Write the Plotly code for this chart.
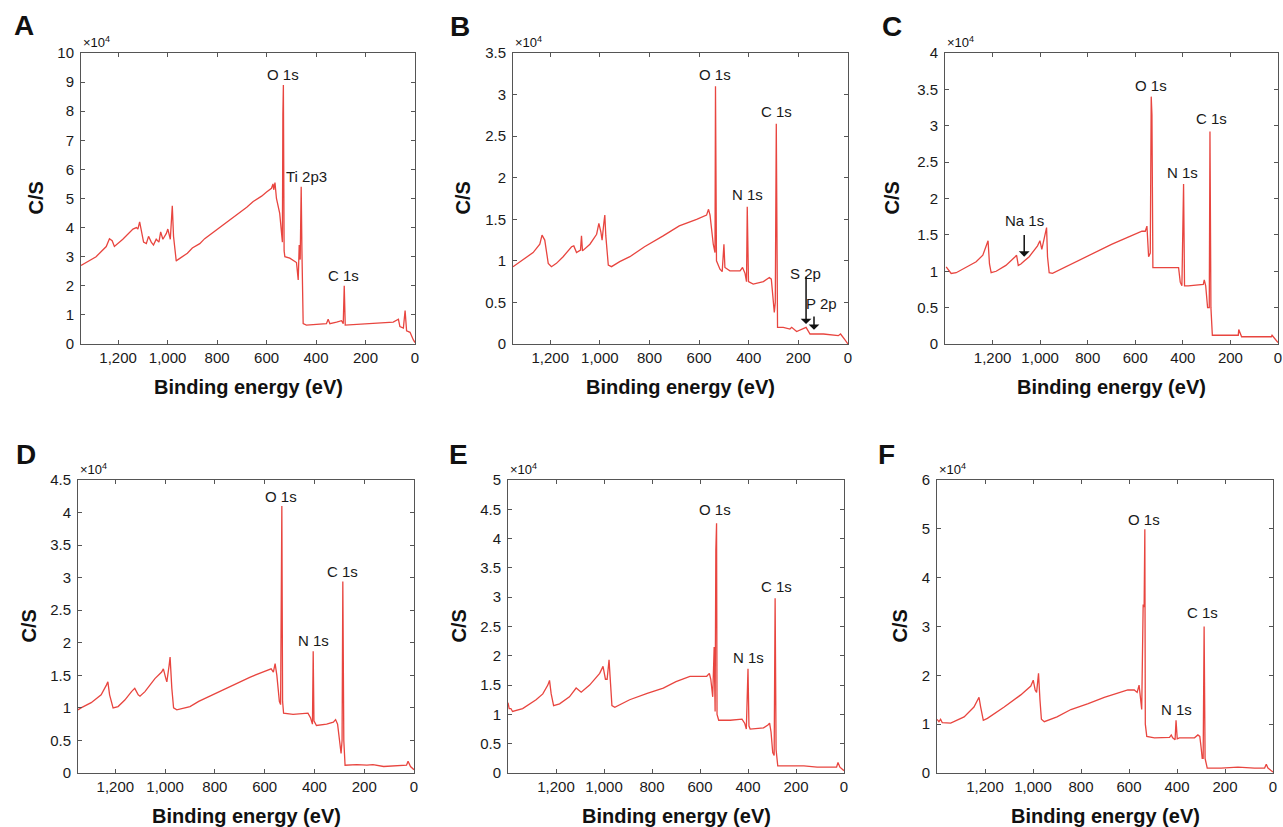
import plotly.graph_objects as go

W, H = 1283, 827

# XPS survey spectra, counts per second in units of 1e4
a_ev = [1350, 1329, 1289, 1248, 1235, 1224, 1215, 1181, 1140, 1126, 1120, 1113, 1107, 1097, 1086,
        1077, 1066, 1057, 1046, 1035, 1028, 1019, 1005, 999, 989, 981, 976, 965, 958, 920, 900,
        870, 850, 800, 770, 735, 700, 680, 654, 620, 600,
        580, 574, 571, 566, 560, 547, 540, 536, 534, 532, 529, 526, 506, 486, 479, 472, 468,
        464, 460, 457, 455, 452, 439, 358, 351, 344, 317, 297, 290, 286, 282, 196, 88, 67, 61, 47,
        40, 34, 20, 7, 0]
a_cs = [2.7, 2.8, 3.0, 3.35, 3.62, 3.55, 3.35, 3.6, 3.95, 4.0, 3.95, 4.2, 3.9, 3.5, 3.45,
        3.7, 3.5, 3.4, 3.6, 3.5, 3.85, 3.6, 3.8, 3.95, 3.6, 4.75, 3.7, 2.85, 2.9, 3.12, 3.3,
        3.45, 3.62, 3.93, 4.12, 4.35, 4.55, 4.7, 4.9, 5.08, 5.22,
        5.35, 5.5, 5.3, 5.55, 5.0, 4.5, 3.8, 3.5, 7.9, 8.9, 3.2, 3.0, 2.95, 2.85, 2.8, 2.2, 3.4,
        2.9, 5.4, 3.2, 1.0, 0.7, 0.65, 0.7, 0.85, 0.7, 0.75, 0.8, 0.7, 2.0, 0.65, 0.7, 0.75, 0.85, 0.6, 0.55,
        1.15, 0.45, 0.4, 0.15, 0.05]

b_ev = [1350, 1296, 1269, 1242, 1233, 1222, 1208, 1195, 1175, 1148, 1114, 1105, 1094, 1078, 1074,
        1070, 1040, 1013, 1004, 996, 991, 984, 980, 976, 966, 953, 920, 879, 820, 745, 680, 610, 570, 562, 556,
        543, 536, 534, 530, 516, 507, 500, 496, 476, 435, 425, 415, 409, 406, 401, 382, 341, 317,
        309, 301, 297, 293, 289, 284, 261, 234, 227, 207, 169, 153, 99, 39, 30, 12, 0]
b_cs = [0.93, 1.05, 1.1, 1.2, 1.31, 1.25, 0.97, 0.93, 0.97, 1.05, 1.17, 1.18, 1.1, 1.13, 1.3,
        1.12, 1.2, 1.32, 1.45, 1.35, 1.25, 1.45, 1.55, 1.3, 0.95, 0.93, 0.99, 1.05, 1.17, 1.3, 1.42, 1.5, 1.55, 1.62, 1.55,
        1.2, 1.1, 3.1, 1.0, 0.9, 0.87, 1.2, 0.92, 0.88, 0.88, 0.92, 0.85, 0.75, 1.65, 0.75, 0.72, 0.75, 0.8,
        0.78, 0.45, 0.38, 0.5, 2.65, 0.2, 0.2, 0.18, 0.2, 0.15, 0.2, 0.12, 0.12, 0.1, 0.12, 0.05, 0.0]

c_ev = [1395, 1374, 1353, 1311, 1269, 1241, 1227, 1219, 1213, 1206, 1185, 1144, 1105, 1099, 1092,
        1081, 1067, 1046, 1011, 1001, 993, 983, 973, 969, 962, 948, 880, 795, 700, 630, 572, 558, 551, 544, 537,
        533, 530, 526, 418, 411, 404, 397, 393, 377, 314, 310, 304, 296, 289, 286, 282, 276, 237,
        167, 165, 153, 28, 25, 0]
c_cs = [1.06, 0.97, 0.98, 1.05, 1.13, 1.22, 1.35, 1.42, 1.1, 0.98, 1.0, 1.08, 1.2, 1.22, 1.08,
        1.1, 1.14, 1.2, 1.35, 1.42, 1.3, 1.45, 1.6, 1.2, 0.98, 0.97, 1.08, 1.21, 1.37, 1.47, 1.55, 1.55, 1.62, 1.2, 1.25,
        3.4, 3.15, 1.05, 1.05, 0.85, 0.8, 2.2, 0.8, 0.8, 0.82, 0.88, 0.8, 0.5, 0.5, 2.92, 0.5, 0.12, 0.12,
        0.12, 0.2, 0.1, 0.1, 0.12, 0.02]

d_ev = [1350, 1338, 1297, 1257, 1236, 1230, 1223, 1209, 1189, 1162, 1135, 1122, 1108, 1101, 1081,
        1041, 1014, 1007, 997, 993, 984, 980, 973, 966, 953, 900, 865, 800, 730, 660, 608, 574, 565, 558, 551,
        541, 536, 534, 531, 528, 524, 486, 426, 416, 408, 405, 402, 392, 351, 324, 315, 307, 297,
        293, 289, 286, 282, 277, 230, 189, 165, 122, 30, 24, 14, 0]
d_cs = [0.97, 1.0, 1.08, 1.2, 1.35, 1.4, 1.2, 1.0, 1.02, 1.12, 1.25, 1.3, 1.2, 1.18, 1.25,
        1.45, 1.55, 1.6, 1.45, 1.4, 1.65, 1.78, 1.3, 1.0, 0.97, 1.02, 1.1, 1.22, 1.35, 1.47, 1.55, 1.6, 1.55, 1.68, 1.5,
        1.1, 1.05, 3.5, 4.1, 1.1, 0.92, 0.9, 0.92, 0.85, 0.75, 1.87, 0.8, 0.73, 0.75, 0.78, 0.82, 0.75, 0.4,
        0.3, 0.5, 2.94, 0.5, 0.12, 0.13, 0.12, 0.13, 0.1, 0.12, 0.18, 0.1, 0.05]

e_ev = [1400, 1395, 1388, 1381, 1339, 1283, 1255, 1234, 1227, 1220, 1210, 1185, 1144, 1116, 1095,
        1060, 1018, 1004, 994, 987, 979, 973, 967, 955, 893, 820, 753, 700, 642, 572, 561, 555, 547, 541,
        537, 534, 531, 529, 522, 474, 425, 414, 407, 400, 396, 391, 335, 317, 310, 304, 297, 291,
        287, 283, 276, 223, 167, 112, 31, 25, 17, 0]
e_cs = [1.2, 1.1, 1.1, 1.05, 1.1, 1.25, 1.35, 1.5, 1.58, 1.35, 1.15, 1.18, 1.3, 1.45, 1.38,
        1.5, 1.7, 1.82, 1.6, 1.6, 1.93, 1.6, 1.15, 1.12, 1.25, 1.36, 1.45, 1.56, 1.65, 1.65, 1.7, 1.6, 1.3, 2.15,
        1.05, 3.8, 4.26, 1.0, 0.9, 0.9, 0.92, 0.85, 0.75, 1.78, 0.8, 0.75, 0.77, 0.82, 0.85, 0.7, 0.35, 0.3,
        2.98, 0.4, 0.12, 0.12, 0.12, 0.1, 0.1, 0.18, 0.1, 0.04]

f_ev = [1400, 1392, 1385, 1378, 1343, 1287, 1246, 1225, 1218, 1207, 1190, 1120, 1051, 1009, 999,
        991, 985, 977, 971, 965, 953, 900, 842, 770, 703, 605, 578, 566, 558, 553, 547, 541, 537, 534, 532,
        526, 494, 431, 424, 418, 408, 404, 399, 390, 327, 313, 305, 299, 295, 291, 287, 283, 274,
        216, 146, 77, 35, 28, 21, 0]
f_cs = [1.1, 1.05, 1.1, 1.03, 1.02, 1.15, 1.35, 1.55, 1.35, 1.08, 1.12, 1.35, 1.6, 1.78, 1.9,
        1.7, 1.65, 2.04, 1.5, 1.1, 1.05, 1.15, 1.3, 1.42, 1.55, 1.7, 1.7, 1.65, 1.8, 1.5, 1.3, 3.45, 3.4, 4.99, 1.0,
        0.75, 0.72, 0.73, 0.78, 0.72, 0.68, 1.08, 0.7, 0.72, 0.72, 0.78, 0.75, 0.5, 0.3, 0.3, 3.0, 0.3, 0.1,
        0.1, 0.12, 0.1, 0.1, 0.18, 0.1, 0.02]

panels = ["A", "B", "C", "D", "E", "F"]
spectra = [(a_ev, a_cs), (b_ev, b_cs), (c_ev, c_cs), (d_ev, d_cs), (e_ev, e_cs), (f_ev, f_cs)]
x_max = [1350, 1350, 1400, 1350, 1400, 1400]
y_max = [10, 3.5, 4, 4.5, 5, 6]
y_dtick = [1, 0.5, 0.5, 0.5, 0.5, 1]
x_ticks = [0, 200, 400, 600, 800, 1000, 1200]

# peak labels: (text, eV, C/S)
peak_labels = [
    [("O 1s", 533, 9.25), ("Ti 2p3", 439, 5.76), ("C 1s", 290, 2.37)],
    [("O 1s", 536, 3.24), ("N 1s", 405, 1.8), ("C 1s", 288, 2.8), ("S 2p", 173, 0.85), ("P 2p", 106, 0.49)],
    [("O 1s", 533, 3.55), ("N 1s", 400, 2.36), ("C 1s", 279, 3.1), ("Na 1s", 1067, 1.7)],
    [("O 1s", 534, 4.25), ("N 1s", 403, 2.03), ("C 1s", 286, 3.1)],
    [("O 1s", 537, 4.49), ("N 1s", 400, 1.97), ("C 1s", 283, 3.18)],
    [("O 1s", 536, 5.2), ("N 1s", 404, 1.31), ("C 1s", 292, 3.29)],
]
# arrows: (panel index, eV, tail, head)
arrows = [(1, 169, 0.83, 0.24), (1, 137, 0.35, 0.17), (2, 1067, 1.52, 1.2)]

# plot boxes in pixels: left, right, top, bottom
boxes = [(81, 415, 53, 344), (513, 848, 53, 344), (945, 1278, 53, 344),
         (78, 414, 480, 773), (508, 844, 480, 773), (937, 1273, 480, 773)]
letter_pos = [(24, 25), (460, 26), (892, 26), (26, 454), (458, 454), (886, 454)]
ytitle_x = [36, 463, 892, 28, 458, 899]

font = "Arial, Liberation Sans, sans-serif"
fig = go.Figure()
annotations = []


def paper_text(px, py, text, size, **kw):
    return dict(x=px / W, y=1 - py / H, xref="paper", yref="paper", text=text, showarrow=False,
                yanchor="middle", font=dict(family=font, size=size, color="#111"), **kw)


for i, (ev, cs) in enumerate(spectra):
    n = "" if i == 0 else str(i + 1)
    l, r, t, b = boxes[i]
    fig.add_trace(go.Scatter(x=ev, y=cs, mode="lines", xaxis="x" + n, yaxis="y" + n,
                             line=dict(color="#e8453f", width=1.3), showlegend=False,
                             hoverinfo="skip"))
    common = dict(showline=True, linecolor="#555", linewidth=1, mirror="ticks", ticks="inside",
                  ticklen=4, tickcolor="#555", showgrid=False, zeroline=False,
                  ticklabeloverflow="allow", automargin=False,
                  tickfont=dict(family=font, size=15, color="#1a1a1a"))
    fig.layout["xaxis" + n] = dict(domain=[l / W, r / W], anchor="y" + n, range=[x_max[i], 0],
                                   tickvals=x_ticks, tickformat=",", **common)
    fig.layout["yaxis" + n] = dict(domain=[1 - b / H, 1 - t / H], anchor="x" + n, range=[0, y_max[i]],
                                   dtick=y_dtick[i], ticklabelstandoff=3, **common)

    xr, yr = "x" + n, "y" + n
    for text, x, y in peak_labels[i]:
        annotations.append(dict(x=x, y=y, xref=xr, yref=yr, text=text, showarrow=False,
                                xanchor="center", yanchor="middle",
                                font=dict(family=font, size=15, color="#1a1a1a")))
    annotations.append(paper_text(l, t - 11, "×10<sup>4</sup>", 13, xanchor="left"))
    annotations.append(paper_text(letter_pos[i][0], letter_pos[i][1], "<b>%s</b>" % panels[i], 28,
                                  xanchor="center"))
    annotations.append(paper_text(ytitle_x[i], (t + b) / 2, "<b>C/S</b>", 20, xanchor="center",
                                  textangle=-90))
    annotations.append(paper_text((l + r) / 2, b + 43, "<b>Binding energy (eV)</b>", 20,
                                  xanchor="center"))

for i, x, tail, head in arrows:
    n = "" if i == 0 else str(i + 1)
    annotations.append(dict(x=x, y=head, ax=x, ay=tail, xref="x" + n, yref="y" + n,
                            axref="x" + n, ayref="y" + n, text="", showarrow=True,
                            arrowhead=1, arrowsize=1.2, arrowwidth=1.5, arrowcolor="#111"))

fig.update_layout(width=W, height=H, margin=dict(l=0, r=0, t=0, b=0, autoexpand=False),
                  paper_bgcolor="white", plot_bgcolor="white", annotations=annotations)
# the page keeps the browser's default body margin; drop it so the figure sits at 0,0
fig.write_html("out.html", config={"displayModeBar": False},
               post_script="document.body.style.margin='0';")
